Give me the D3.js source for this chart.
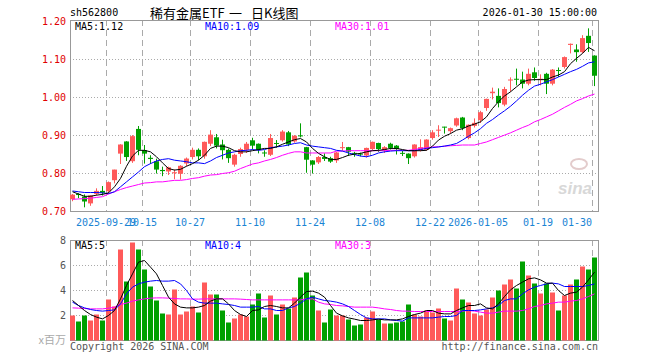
<!DOCTYPE html>
<html>
<head>
<meta charset="utf-8">
<script src="https://cdn.jsdelivr.net/npm/d3@7"></script>
<style>
  body { margin: 0; background: #fff; }
  text { font-family: "DejaVu Sans Mono", monospace; font-size: 10px; }
</style>
</head>
<body>
<div class="canvas"></div>
<script>
// trading days shown
const dates = [
  '2025-09-19','2025-09-22','2025-09-23','2025-09-24','2025-09-25','2025-09-26','2025-09-29','2025-09-30',
  '2025-10-09','2025-10-10','2025-10-13','2025-10-14','2025-10-15','2025-10-16','2025-10-17','2025-10-20',
  '2025-10-21','2025-10-22','2025-10-23','2025-10-24','2025-10-27','2025-10-28','2025-10-29','2025-10-30',
  '2025-10-31','2025-11-03','2025-11-04','2025-11-05','2025-11-06','2025-11-07','2025-11-10','2025-11-11',
  '2025-11-12','2025-11-13','2025-11-14','2025-11-17','2025-11-18','2025-11-19','2025-11-20','2025-11-21',
  '2025-11-24','2025-11-25','2025-11-26','2025-11-27','2025-11-28','2025-12-01','2025-12-02','2025-12-03',
  '2025-12-04','2025-12-05','2025-12-08','2025-12-09','2025-12-10','2025-12-11','2025-12-12','2025-12-15',
  '2025-12-16','2025-12-17','2025-12-18','2025-12-19','2025-12-22','2025-12-23','2025-12-24','2025-12-25',
  '2025-12-26','2025-12-29','2025-12-30','2025-12-31','2026-01-05','2026-01-06','2026-01-07','2026-01-08',
  '2026-01-09','2026-01-12','2026-01-13','2026-01-14','2026-01-15','2026-01-16','2026-01-19','2026-01-20',
  '2026-01-21','2026-01-22','2026-01-23','2026-01-26','2026-01-27','2026-01-28','2026-01-29','2026-01-30'
];

const open = [
  0.731,0.745,0.738,0.720,0.745,0.753,0.752,0.781,0.851,0.883,0.831,0.916,0.860,0.840,0.831,0.808,
  0.804,0.800,0.798,0.825,0.842,0.861,0.844,0.877,0.894,0.875,0.861,0.822,0.850,0.861,0.886,0.877,
  0.854,0.848,0.879,0.886,0.907,0.883,0.899,0.868,0.833,0.828,0.842,0.839,0.833,0.867,0.868,0.853,
  0.851,0.846,0.863,0.879,0.860,0.877,0.872,0.853,0.851,0.844,0.860,0.861,0.892,0.912,0.922,0.910,
  0.925,0.946,0.892,0.924,0.939,0.971,1.010,1.003,0.980,1.044,1.048,1.046,1.035,1.065,1.046,1.061,
  1.035,1.071,1.079,1.137,1.125,1.118,1.161,1.109
];
const close = [
  0.743,0.742,0.725,0.741,0.753,0.748,0.776,0.809,0.875,0.842,0.897,0.861,0.851,0.837,0.809,0.805,
  0.815,0.802,0.819,0.838,0.861,0.844,0.882,0.901,0.872,0.860,0.839,0.848,0.863,0.877,0.872,0.861,
  0.852,0.892,0.877,0.909,0.875,0.898,0.897,0.835,0.822,0.842,0.837,0.830,0.854,0.868,0.856,0.851,
  0.850,0.866,0.882,0.863,0.868,0.866,0.863,0.852,0.839,0.875,0.868,0.888,0.907,0.914,0.921,0.918,
  0.944,0.918,0.927,0.932,0.960,0.995,1.014,0.984,1.021,1.046,1.046,1.035,1.061,1.050,1.048,1.035,
  1.072,1.070,1.105,1.140,1.118,1.155,1.142,1.056
];
const high = [
  0.746,0.748,0.745,0.743,0.761,0.767,0.779,0.810,0.877,0.885,0.901,0.925,0.875,0.848,0.839,0.818,
  0.818,0.811,0.822,0.842,0.868,0.866,0.884,0.914,0.904,0.889,0.866,0.852,0.868,0.883,0.894,0.879,
  0.861,0.904,0.888,0.914,0.912,0.901,0.932,0.870,0.835,0.846,0.853,0.844,0.857,0.883,0.870,0.857,
  0.855,0.868,0.884,0.881,0.872,0.881,0.875,0.860,0.853,0.877,0.890,0.890,0.914,0.927,0.923,0.921,
  0.947,0.949,0.929,0.945,0.965,0.997,1.026,1.024,1.028,1.053,1.076,1.068,1.076,1.079,1.061,1.065,
  1.075,1.079,1.108,1.142,1.140,1.164,1.182,1.111
];
const low = [
  0.727,0.735,0.711,0.715,0.742,0.742,0.747,0.774,0.825,0.833,0.828,0.848,0.826,0.825,0.800,0.793,
  0.796,0.785,0.784,0.819,0.837,0.835,0.839,0.872,0.866,0.837,0.828,0.818,0.844,0.854,0.863,0.853,
  0.844,0.846,0.868,0.884,0.872,0.881,0.895,0.802,0.800,0.825,0.833,0.828,0.828,0.860,0.846,0.844,
  0.845,0.842,0.860,0.857,0.854,0.863,0.850,0.846,0.825,0.842,0.858,0.860,0.889,0.896,0.905,0.905,
  0.923,0.914,0.890,0.921,0.933,0.965,0.995,0.974,0.977,1.015,1.032,1.024,1.032,1.044,1.032,1.009,
  1.032,1.054,1.076,1.116,1.094,1.116,1.120,1.030
];

const ma5 = [
  0.752,0.746,0.740,0.740,0.743,0.745,0.749,0.765,0.787,0.819,0.846,0.861,0.861,0.857,0.844,0.828,
  0.813,0.809,0.811,0.819,0.826,0.835,0.848,0.866,0.872,0.872,0.868,0.860,0.857,0.857,0.860,0.863,
  0.866,0.866,0.870,0.877,0.883,0.889,0.892,0.883,0.866,0.853,0.844,0.837,0.837,0.842,0.848,0.851,
  0.853,0.857,0.860,0.861,0.863,0.866,0.866,0.863,0.860,0.860,0.860,0.861,0.872,0.888,0.898,0.905,
  0.914,0.918,0.925,0.930,0.936,0.949,0.971,0.989,1.004,1.015,1.028,1.041,1.046,1.047,1.047,1.047,
  1.054,1.059,1.068,1.089,1.103,1.116,1.132,1.123
];
const ma10 = [
  0.754,0.752,0.750,0.750,0.750,0.749,0.747,0.752,0.765,0.778,0.791,0.804,0.818,0.826,0.833,0.837,
  0.839,0.835,0.833,0.831,0.828,0.828,0.826,0.833,0.842,0.848,0.854,0.857,0.860,0.861,0.863,0.861,
  0.863,0.868,0.870,0.872,0.875,0.879,0.881,0.875,0.872,0.870,0.868,0.866,0.861,0.859,0.854,0.850,
  0.846,0.844,0.848,0.854,0.857,0.859,0.860,0.860,0.860,0.860,0.863,0.866,0.868,0.870,0.872,0.875,
  0.879,0.888,0.898,0.907,0.918,0.932,0.942,0.954,0.965,0.977,0.991,1.006,1.019,1.030,1.035,1.041,
  1.047,1.054,1.061,1.068,1.074,1.082,1.091,1.094
];
const ma30 = [
  0.732,0.733,0.734,0.735,0.737,0.739,0.746,0.752,0.758,0.763,0.767,0.771,0.775,0.776,0.778,0.778,
  0.780,0.782,0.782,0.784,0.787,0.789,0.793,0.796,0.797,0.800,0.802,0.806,0.813,0.819,0.825,0.828,
  0.833,0.837,0.842,0.848,0.853,0.857,0.857,0.854,0.854,0.854,0.854,0.854,0.859,0.859,0.860,0.860,
  0.860,0.860,0.860,0.860,0.860,0.861,0.861,0.861,0.861,0.863,0.866,0.868,0.870,0.870,0.872,0.873,
  0.874,0.875,0.875,0.875,0.879,0.883,0.889,0.895,0.901,0.907,0.914,0.921,0.927,0.936,0.942,0.949,
  0.956,0.965,0.974,0.982,0.991,0.997,1.004,1.009
];

// volume, millions
const volume = [
  2.00,1.52,2.00,1.60,2.08,1.60,3.28,2.72,7.28,4.72,7.84,7.28,5.68,4.32,3.20,2.16,
  2.08,4.08,2.08,2.32,2.72,2.24,4.64,3.68,3.68,2.40,1.44,1.76,2.08,1.92,2.88,3.76,
  1.84,3.60,2.08,2.88,2.56,3.44,5.04,5.44,3.60,2.40,1.44,2.48,2.00,2.00,1.68,1.20,
  1.28,1.84,2.32,1.68,1.36,1.36,1.44,1.52,2.88,2.08,1.92,2.40,2.24,2.56,1.76,1.60,
  4.16,3.28,3.04,2.16,2.00,2.48,3.44,4.00,4.48,4.88,4.16,6.32,5.20,4.56,3.76,4.56,
  3.84,2.40,3.60,4.48,4.88,5.92,5.68,6.64
];
const volMa5 = [
  3.20,2.80,2.40,2.08,1.87,1.73,2.00,2.40,3.33,4.40,5.33,6.27,6.40,5.87,5.33,4.40,
  3.47,2.93,2.67,2.61,2.61,2.67,2.80,3.15,3.33,3.33,2.93,2.40,2.08,1.92,2.40,2.45,
  2.72,2.80,2.72,2.61,2.61,2.99,3.47,3.92,3.95,3.79,3.47,2.80,2.19,1.97,1.81,1.71,
  1.60,1.60,1.65,1.71,1.65,1.65,1.65,1.73,1.92,2.08,2.19,2.40,2.40,2.19,2.13,2.13,
  2.40,2.61,2.80,2.80,2.93,2.61,2.53,2.93,3.52,4.05,4.40,4.67,4.93,5.01,4.85,4.59,
  4.59,4.00,3.60,3.79,3.87,4.27,4.85,5.47
];
const volMa10 = [
  3.07,2.80,2.61,2.48,2.40,2.35,2.40,2.45,2.93,3.73,4.27,4.53,4.67,4.75,4.80,4.75,
  4.75,4.80,4.53,4.00,3.33,3.07,2.99,2.99,2.99,2.93,2.88,2.80,2.67,2.67,2.67,2.72,
  2.53,2.53,2.40,2.40,2.61,2.72,2.99,3.33,3.47,3.33,3.20,3.15,3.07,2.93,2.72,2.40,
  2.08,1.81,1.73,1.73,1.73,1.65,1.60,1.55,1.81,1.81,1.81,1.81,1.81,1.87,1.92,1.92,
  2.00,2.40,2.40,2.40,2.45,2.53,2.61,2.80,3.20,3.33,3.33,3.73,4.05,4.27,4.40,4.53,
  4.59,4.53,4.32,4.32,4.32,4.32,4.40,4.53
];
const volMa30 = [
  2.61,2.59,2.56,2.53,2.53,2.53,2.59,2.67,2.88,2.99,3.15,3.25,3.33,3.39,3.41,3.41,
  3.39,3.36,3.33,3.33,3.31,3.31,3.33,3.33,3.33,3.33,3.33,3.33,3.31,3.28,3.25,3.25,
  3.25,3.25,3.25,3.25,3.25,3.25,3.25,3.33,3.33,3.07,2.93,2.88,2.80,2.77,2.72,2.67,
  2.67,2.67,2.67,2.61,2.53,2.48,2.40,2.35,2.35,2.32,2.32,2.32,2.32,2.32,2.32,2.32,
  2.32,2.35,2.40,2.35,2.27,2.19,2.19,2.27,2.35,2.35,2.35,2.40,2.53,2.72,2.80,2.93,
  2.99,3.07,3.07,3.15,3.20,3.33,3.52,3.73
];

const priceTicks = [0.7, 0.8, 0.9, 1.0, 1.1, 1.2];
const volTicks = [2, 4, 6, 8];
const tickDates = ['2025-09-29','2025-10-15','2025-10-27','2025-11-10','2025-11-24','2025-12-08','2025-12-22','2026-01-05','2026-01-19','2026-01-30'];
const tickLabels = ['2025-09-29','10-15','10-27','11-10','11-24','12-08','12-22','2026-01-05','01-19','01-30'];

const RED = '#ff5a5a', GREEN = '#00a000', GRID = '#aaa', BORDER = '#999';

const svg = d3.select('.canvas')
    .append('svg')
    .attr('width', 660)
    .attr('height', 360)

const left = 70, right = 598;
const x = d3.scaleBand().domain(dates).range([left, right]);
const cx = d => x(d) + 2.5;

const y = d3.scaleLinear().domain([0.7, 1.2]).range([211.5, 21.5]);
const yv = d3.scaleLinear().domain([0, 8]).range([340.5, 240.5]);

// ---------- header
svg.append('text').attr('x', 70).attr('y', 16).text('sh562800');
const cjk = '"Noto Sans CJK SC", sans-serif';
[[150, '稀有金属ETF'], [229, '一'], [251, '日K线图']].forEach(t => {
    svg.append('text').attr('x', t[0]).attr('y', 18)
        .style('font-family', cjk).style('font-size', '13px')
        .text(t[1]);
});
svg.append('text').attr('x', 597).attr('y', 16).attr('text-anchor', 'end')
    .text('2026-01-30 15:00:00');

// ---------- grids
function panel(g, yScale, hTicks, top, bottom) {
    g.selectAll('.hgrid').data(hTicks).enter().append('line')
        .attr('x1', left).attr('x2', right)
        .attr('y1', d => yScale(d)).attr('y2', d => yScale(d))
        .attr('stroke', GRID).attr('stroke-dasharray', '1,2');
    g.selectAll('.vgrid').data(tickDates).enter().append('line')
        .attr('x1', d => x(d) + 0.5).attr('x2', d => x(d) + 0.5)
        .attr('y1', top).attr('y2', bottom)
        .attr('stroke', GRID).attr('stroke-dasharray', '6,4');
    g.append('rect')
        .attr('x', left + 0.5).attr('y', top + 0.5)
        .attr('width', right - left).attr('height', bottom - top)
        .attr('fill', 'none').attr('stroke', BORDER);
}

const main = svg.append('g');
panel(main, y, [0.8, 0.9, 1.0, 1.1], 20, 211);

const vol = svg.append('g');
panel(vol, yv, [2, 4, 6], 240, 340);

// ---------- axes
const yAxisGroup = svg.append('g').attr('transform', 'translate(66,0)')
    .call(d3.axisLeft(y).tickValues(priceTicks).tickFormat(d3.format('.2f')).tickSize(0));
yAxisGroup.select('.domain').remove();
yAxisGroup.selectAll('text').attr('fill', '#e00000').attr('x', 0)
    .style('font-family', '"DejaVu Sans Mono", monospace').style('font-size', '10px');

const vAxisGroup = svg.append('g').attr('transform', 'translate(66,0)')
    .call(d3.axisLeft(yv).tickValues(volTicks).tickFormat(d3.format('d')).tickSize(0));
vAxisGroup.select('.domain').remove();
vAxisGroup.selectAll('text').attr('fill', '#555').attr('x', 0)
    .style('font-family', '"DejaVu Sans Mono", monospace').style('font-size', '10px');

const xAxisGroup = svg.append('g').attr('transform', 'translate(0,216)')
    .call(d3.axisBottom(x).tickValues(tickDates)
        .tickFormat((d, i) => tickLabels[i]).tickSize(0));
xAxisGroup.select('.domain').remove();
xAxisGroup.selectAll('.tick').attr('transform', d => `translate(${x(d)},0)`);
xAxisGroup.selectAll('text').attr('fill', '#1a84d4')
    .style('font-family', '"DejaVu Sans Mono", monospace').style('font-size', '10px')
    .attr('text-anchor', (d, i) => i === tickDates.length - 1 ? 'end' : 'middle');

// ---------- candles
const candles = dates.map((d, i) => ({date: d, o: open[i], c: close[i], h: high[i], l: low[i], v: volume[i]}));
const colour = d => d.c >= d.o ? RED : GREEN;

main.selectAll('.wick').data(candles).enter().append('line')
    .attr('x1', d => cx(d.date)).attr('x2', d => cx(d.date))
    .attr('y1', d => y(d.h)).attr('y2', d => y(d.l))
    .attr('stroke', colour);

main.selectAll('.body').data(candles).enter().append('rect')
    .attr('x', d => x(d.date))
    .attr('y', d => y(Math.max(d.o, d.c)) - 0.5)
    .attr('width', 5)
    .attr('height', d => Math.max(1, Math.abs(y(d.o) - y(d.c))))
    .attr('fill', colour);

// ---------- volume bars
vol.selectAll('.bar').data(candles).enter().append('rect')
    .attr('x', d => x(d.date))
    .attr('y', d => yv(d.v))
    .attr('width', 5)
    .attr('height', d => yv(0) - yv(d.v))
    .attr('fill', colour);

// ---------- moving averages
function maLine(g, values, yScale, stroke) {
    const line = d3.line().x((v, i) => cx(dates[i])).y(v => yScale(v));
    g.append('path').datum(values).attr('d', line)
        .attr('fill', 'none').attr('stroke', stroke).attr('stroke-width', 1);
}
maLine(main, ma30, y, '#ff00ff');
maLine(main, ma10, y, '#0000ff');
maLine(main, ma5, y, '#000');
maLine(vol, volMa30, yv, '#ff00ff');
maLine(vol, volMa10, yv, '#0000ff');
maLine(vol, volMa5, yv, '#000');

// ---------- legends
const legends = [
    [75, 30, 'MA5:1.12', '#000'], [205, 30, 'MA10:1.09', '#0000ff'], [335, 30, 'MA30:1.01', '#ff00ff'],
    [75, 249, 'MA5:5', '#000'], [205, 249, 'MA10:4', '#0000ff'], [335, 249, 'MA30:3', '#ff00ff']
];
legends.forEach(l => {
    svg.append('text').attr('x', l[0]).attr('y', l[1]).attr('fill', l[3]).text(l[2]);
});

// ---------- watermark + footer
svg.append('ellipse').attr('cx', 579).attr('cy', 164).attr('rx', 8).attr('ry', 5)
    .attr('fill', 'none').attr('stroke', '#e3cccc').attr('stroke-width', 2);
svg.append('text').attr('x', 558).attr('y', 194)
    .style('font-family', 'Arial, "Liberation Sans", sans-serif')
    .style('font-size', '17px').style('font-weight', 'bold').style('font-style', 'italic')
    .attr('fill', '#d8d8d8').text('sina');

svg.append('text').attr('x', 66).attr('y', 344).attr('text-anchor', 'end')
    .style('font-family', cjk).style('font-size', '11px')
    .attr('fill', '#aaa').text('x百万');
svg.append('text').attr('x', 70).attr('y', 350).attr('fill', '#555').text('Copyright 2026 SINA.COM');
svg.append('text').attr('x', 598).attr('y', 350).attr('text-anchor', 'end').attr('fill', '#555')
    .text('http://finance.sina.com.cn');
</script>
</body>
</html>
